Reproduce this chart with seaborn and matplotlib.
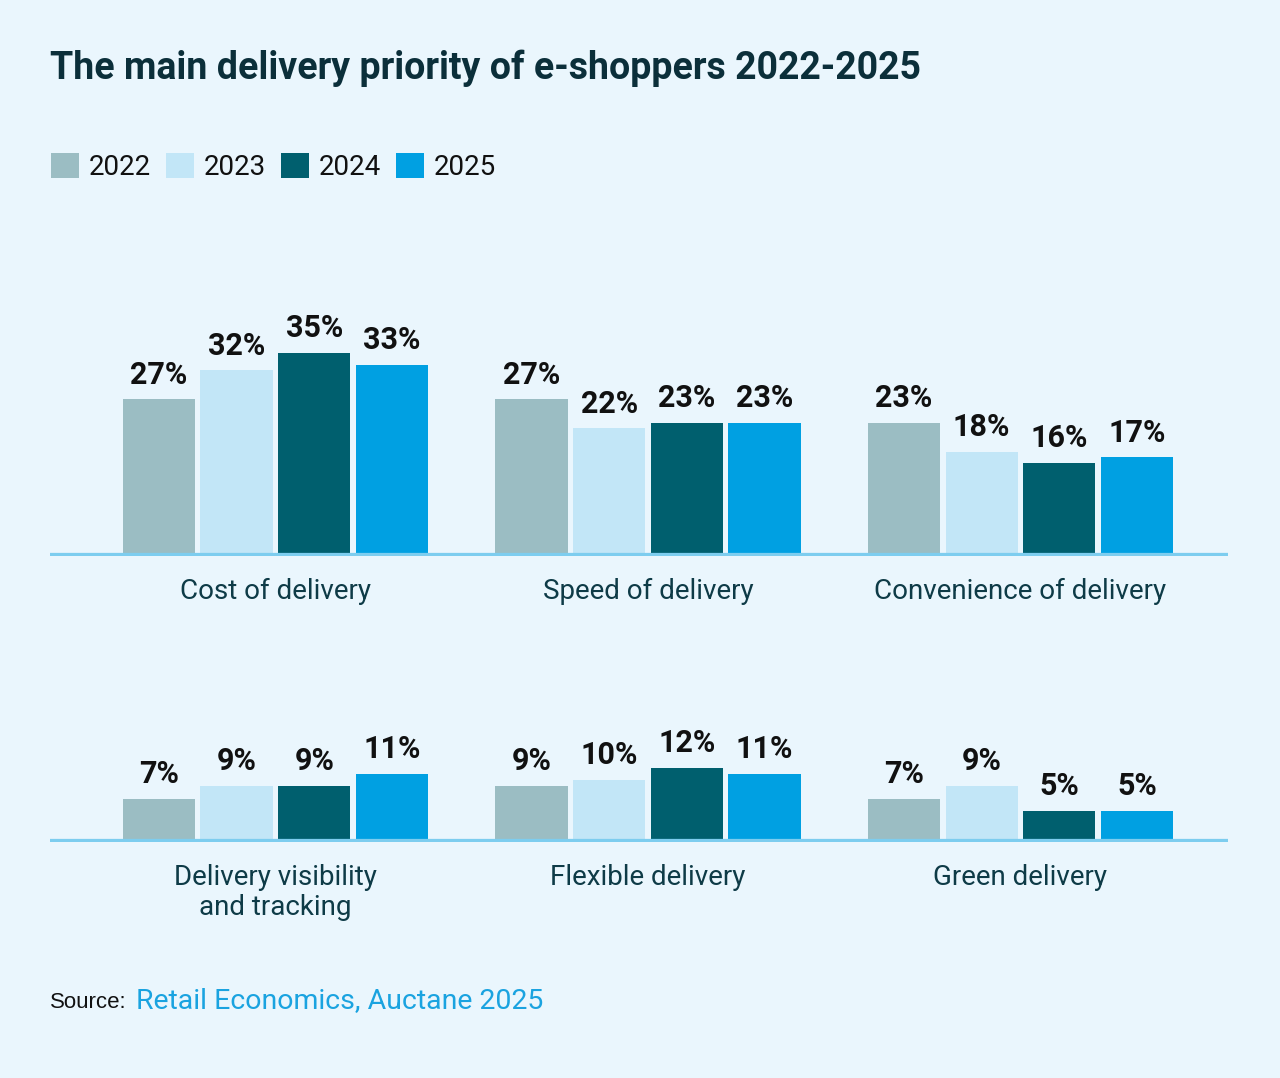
import matplotlib
matplotlib.use("Agg")
import matplotlib.pyplot as plt
import seaborn as sns
import pandas as pd

# data
years = ["2022", "2023", "2024", "2025"]
top_categories = ["Cost of delivery", "Speed of delivery", "Convenience of delivery"]
bottom_categories = ["Delivery visibility\nand tracking", "Flexible delivery", "Green delivery"]

cost_of_delivery = [27, 32, 35, 33]
speed_of_delivery = [27, 22, 23, 23]
convenience_of_delivery = [23, 18, 16, 17]
visibility_and_tracking = [7, 9, 9, 11]
flexible_delivery = [9, 10, 12, 11]
green_delivery = [7, 9, 5, 5]

year_colors = ["#9BBDC3", "#C2E6F7", "#005F6E", "#00A0E2"]
BG = "#EAF6FD"
LINE = "#7DCDEF"
CAT_COLOR = "#0E3B47"


def long_df(categories, series):
    rows = []
    for cat, vals in zip(categories, series):
        for yr, v in zip(years, vals):
            rows.append({"category": cat, "year": yr, "value": v})
    return pd.DataFrame(rows)


df_top = long_df(top_categories, [cost_of_delivery, speed_of_delivery, convenience_of_delivery])
df_bottom = long_df(bottom_categories, [visibility_and_tracking, flexible_delivery, green_delivery])

sns.set_theme(style="white")
plt.rcParams["font.family"] = ["Roboto", "DejaVu Sans"]

W, H = 1280, 1078
fig = plt.figure(figsize=(W / 100, H / 100), dpi=100)
fig.patch.set_facecolor(BG)

left = 50 / W
width = 1178 / W
ax_top = fig.add_axes([left, (H - 556) / H, width, 232 / H])
ax_bot = fig.add_axes([left, (H - 842) / H, width, 93 / H])

palette = dict(zip(years, year_colors))

for ax, df, ymax in [(ax_top, df_top, 40), (ax_bot, df_bottom, 15)]:
    sns.barplot(data=df, x="category", y="value", hue="year", palette=palette,
                width=0.834, gap=0.07, saturation=1, ax=ax, legend=(ax is ax_top),
                edgecolor="none", linewidth=0)
    ax.set_facecolor("none")
    ax.set_xlim(-0.605, 2.557)
    ax.set_ylim(0, ymax)
    ax.axhline(0, color=LINE, lw=4.5, zorder=5)
    for spine in ax.spines.values():
        spine.set_visible(False)
    ax.set_yticks([])
    ax.set_xlabel("")
    ax.set_ylabel("")
    ax.tick_params(axis="x", length=0, pad=16, labelsize=20, labelcolor=CAT_COLOR)
    for lab in ax.get_xticklabels():
        lab.set_linespacing(1.14)
        lab.set_verticalalignment("top")
    for cont in ax.containers:
        ax.bar_label(cont, labels=[f"{v:.0f}%" for v in cont.datavalues],
                     padding=7, fontsize=22, fontweight="bold", color="#111111")

handles, labels = ax_top.get_legend_handles_labels()
ax_top.get_legend().remove()
fig.legend(handles, labels, loc="upper left", bbox_to_anchor=(26 / W, 1 - 128 / H),
           ncol=4, frameon=False, fontsize=20, handlelength=1.0, handleheight=1.0,
           handletextpad=0.35, columnspacing=0.55, labelcolor="#111111")

fig.text(50 / W, 1 - 68 / H, "The main delivery priority of e-shoppers 2022-2025",
         fontsize=27, fontweight="bold", color="#0B2F3A", va="center", ha="left")

fig.text(50 / W, 1 - 1002 / H, "Source:", fontsize=16, color="#111111",
         family=["Liberation Sans", "DejaVu Sans"], va="center", ha="left")
fig.text(136 / W, 1 - 1001 / H, "Retail Economics, Auctane 2025", fontsize=20.5,
         color="#1AA3E0", va="center", ha="left")

fig.savefig("out.png", dpi=100, facecolor=BG)
